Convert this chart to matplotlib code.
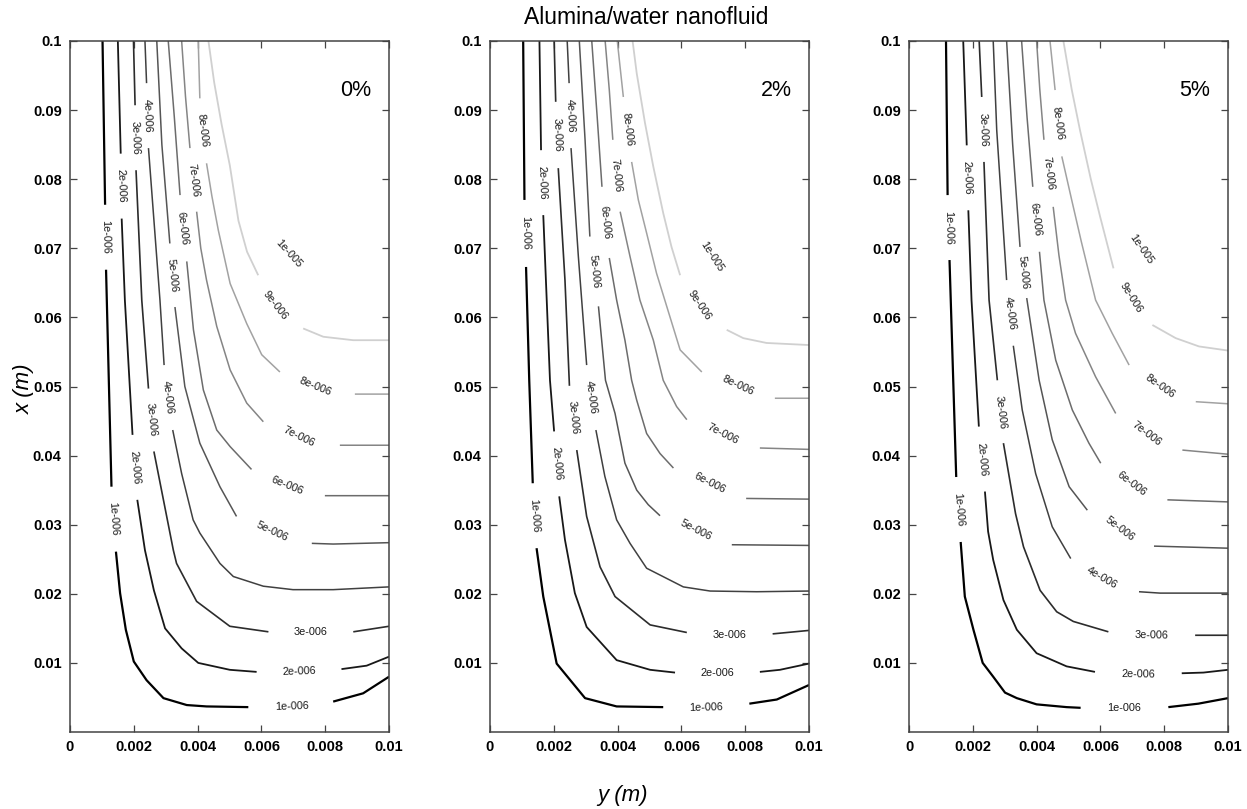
import numpy as np
import matplotlib.pyplot as plt

plt.rcParams['font.family'] = ['Liberation Sans', 'DejaVu Sans']

nan = np.nan

level_names = ['1e-006', '2e-006', '3e-006', '4e-006', '5e-006',
               '6e-006', '7e-006', '8e-006', '9e-006']
panel_tags = ['0%', '2%', '5%']
x_ticks = [0, 0.002, 0.004, 0.006, 0.008, 0.01]
x_ticklabels = ['0', '0.002', '0.004', '0.006', '0.008', '0.01']
y_ticks = [0.01, 0.02, 0.03, 0.04, 0.05, 0.06, 0.07, 0.08, 0.09, 0.1]
y_ticklabels = ['0.01', '0.02', '0.03', '0.04', '0.05', '0.06', '0.07', '0.08', '0.09', '0.1']

# ---- 0% : y (mm) / x (mm) along each contour, nan = gap for a label
y0 = [
    [1.02, 1.10, nan, 1.13, 1.30, nan, 1.44, 1.57, 1.75, 2.00, 2.40, 2.93, 3.66, 4.28, 5.59, nan, 8.25, 9.19, 10.0],
    [1.50, 1.59, nan, 1.62, 1.72, 1.96, nan, 2.11, 2.35, 2.63, 2.98, 3.50, 4.02, 5.01, 5.85, nan, 8.51, 9.30, 10.0],
    [1.99, 2.04, nan, 2.07, 2.25, 2.46, nan, 2.63, 3.24, 3.34, 3.97, 5.01, 6.22, nan, 8.88, 10.0],
    [2.35, 2.40, nan, 2.46, 2.82, 2.95, nan, 3.22, 3.50, 3.86, 4.07, 4.70, 5.12, 6.06, 6.99, 8.25, 10.0],
    [2.72, 2.88, 3.13, nan, 3.29, 3.60, 4.07, 4.70, 5.22, nan, 7.58, 8.25, 10.0],
    [3.08, 3.27, 3.45, nan, 3.66, 3.87, 4.18, 4.60, 5.02, 5.69, nan, 7.99, 10.0],
    [3.50, 3.62, 3.76, nan, 3.97, 4.10, 4.28, 4.60, 5.02, 5.54, 6.06, nan, 8.46, 10.0],
    [4.02, 4.07, nan, 4.28, 4.45, 4.65, 5.02, 5.54, 6.01, 6.58, nan, 8.93, 10.0],
    [4.34, 4.52, 4.75, 5.01, 5.28, 5.55, 5.90, nan, 7.31, 7.94, 8.88, 10.0],
]
x0 = [
    [100, 76.3, nan, 66.9, 35.5, nan, 26.1, 20.1, 14.8, 10.2, 7.5, 4.9, 3.9, 3.7, 3.6, nan, 4.4, 5.6, 8.0],
    [100, 83.7, nan, 74.3, 62.5, 43.0, nan, 33.6, 26.3, 20.5, 15.0, 12.1, 10.0, 9.0, 8.7, nan, 9.1, 9.6, 10.9],
    [100, 90.7, nan, 81.3, 62.5, 49.7, nan, 40.6, 26.3, 24.4, 18.9, 15.3, 14.5, nan, 14.5, 15.3],
    [100, 93.9, nan, 84.5, 62.5, 53.1, nan, 43.7, 37.4, 30.7, 28.8, 24.4, 22.5, 21.1, 20.6, 20.6, 21.0],
    [100, 85.0, 70.7, nan, 61.5, 50.0, 41.8, 35.5, 31.2, nan, 27.3, 27.2, 27.4],
    [100, 89.0, 77.7, nan, 68.1, 58.2, 49.5, 43.7, 41.3, 38.0, nan, 34.2, 34.2],
    [100, 92.0, 84.5, nan, 75.3, 70.0, 65.4, 58.7, 52.4, 47.6, 44.9, nan, 41.5, 41.5],
    [100, 91.7, nan, 82.3, 77.5, 72.6, 64.9, 59.1, 54.6, 52.1, nan, 48.9, 48.9],
    [100, 94.0, 88.0, 82.0, 74.0, 69.5, 66.1, nan, 58.4, 57.2, 56.7, 56.7],
]
lab0_text = ['1e-006', '1e-006', '1e-006', '2e-006', '2e-006', '2e-006', '3e-006', '3e-006', '3e-006',
             '4e-006', '4e-006', '5e-006', '5e-006', '6e-006', '6e-006', '7e-006', '7e-006',
             '8e-006', '8e-006', '9e-006', '1e-005']
lab0_y = [1.12, 1.37, 6.95, 1.60, 2.03, 7.20, 2.05, 2.54, 7.55, 2.43, 3.08, 3.21, 6.35,
          3.53, 6.80, 3.86, 7.18, 4.17, 7.70, 6.43, 6.85]
lab0_x = [71.6, 30.8, 3.75, 79.0, 38.3, 8.7, 86.0, 45.2, 14.5, 89.2, 48.4, 66.1, 29.0,
          72.9, 35.6, 79.9, 42.8, 87.0, 50.0, 61.8, 69.3]
lab0_rot = [-89, -86, 2, -88, -85, 2, -88, -84, 0, -88, -83, -84, -25,
            -83, -22, -83, -26, -83, -22, -52, -48]

# ---- 2%
y2 = [
    [1.04, 1.08, nan, 1.13, 1.23, 1.34, nan, 1.46, 1.67, 2.09, 2.98, 3.97, 5.43, nan, 8.13, 8.99, 10.0],
    [1.55, 1.60, nan, 1.67, 1.88, 2.01, nan, 2.17, 2.35, 2.66, 3.03, 3.97, 5.02, 5.80, nan, 8.46, 9.09, 10.0],
    [2.01, 2.06, nan, 2.14, 2.35, 2.49, nan, 2.72, 3.03, 3.45, 3.92, 5.02, 6.17, nan, 8.86, 10.0],
    [2.42, 2.48, nan, 2.54, 2.77, 3.03, nan, 3.32, 3.60, 3.97, 4.39, 4.91, 6.06, 6.90, 8.36, 10.0],
    [2.80, 2.98, 3.13, nan, 3.40, 3.62, 3.92, 4.23, 4.60, 4.96, 5.33, nan, 7.58, 10.0],
    [3.19, 3.36, 3.51, nan, 3.74, 3.97, 4.23, 4.44, 4.60, 4.91, 5.33, 5.75, nan, 8.03, 10.0],
    [3.61, 3.74, 3.85, nan, 4.08, 4.39, 4.70, 5.12, 5.43, 5.85, 6.17, nan, 8.46, 10.0],
    [3.99, 4.10, 4.18, nan, 4.44, 4.65, 4.91, 5.22, 5.54, 5.96, 6.64, nan, 8.93, 10.0],
    [4.47, 4.60, 4.86, 5.12, 5.43, 5.69, 5.96, nan, 7.42, 7.94, 8.67, 10.0],
]
x2 = [
    [100, 77.0, nan, 67.3, 50.9, 36.0, nan, 26.6, 19.6, 9.9, 4.9, 3.7, 3.6, nan, 4.1, 4.7, 6.8],
    [100, 84.2, nan, 74.8, 50.9, 43.5, nan, 34.1, 27.8, 20.1, 15.2, 10.4, 9.0, 8.6, nan, 8.7, 9.0, 9.9],
    [100, 91.2, nan, 81.6, 65.4, 50.1, nan, 40.8, 31.2, 23.9, 19.6, 15.5, 14.4, nan, 14.2, 14.7],
    [100, 93.9, nan, 84.5, 68.8, 53.1, nan, 43.7, 37.0, 30.7, 27.3, 23.7, 21.0, 20.4, 20.3, 20.4],
    [100, 85.7, 71.7, nan, 61.6, 50.9, 46.1, 38.9, 35.0, 32.9, 31.3, nan, 27.1, 27.0],
    [100, 89.0, 78.9, nan, 68.6, 62.5, 56.7, 50.9, 48.0, 43.2, 40.3, 38.2, nan, 33.8, 33.7],
    [100, 92.9, 85.7, nan, 75.3, 68.8, 62.5, 56.7, 50.9, 47.1, 45.2, nan, 41.1, 40.9],
    [100, 95.3, 91.9, nan, 82.5, 77.0, 72.2, 66.4, 61.6, 55.3, 52.1, nan, 48.3, 48.3],
    [100, 95.3, 88.1, 81.8, 75.1, 70.2, 66.1, nan, 58.2, 57.0, 56.3, 56.0],
]
lab2_text = lab0_text
lab2_y = [1.10, 1.40, 6.78, 1.63, 2.09, 7.13, 2.10, 2.60, 7.52, 2.51, 3.17, 3.26, 6.45,
          3.62, 6.89, 3.96, 7.31, 4.31, 7.78, 6.55, 6.95]
lab2_x = [72.2, 31.3, 3.5, 79.5, 38.8, 8.6, 86.4, 45.5, 14.0, 89.2, 48.4, 66.6, 29.2,
          73.7, 36.0, 80.5, 43.1, 87.2, 50.2, 61.8, 68.8]
lab2_rot = [-89, -86, 1.5, -88, -85, 0, -88, -84, 0, -88, -82, -84, -27,
            -84, -27, -84, -27, -83, -25, -56, -57]

# ---- 5%
y5 = [
    [1.16, 1.21, nan, 1.27, 1.48, nan, 1.62, 1.75, 2.02, 2.31, 2.64, 3.01, 3.38, 4.00, 4.94, 5.38, nan, 8.13, 9.07, 10.0],
    [1.70, 1.81, nan, 1.86, 1.96, 2.19, nan, 2.38, 2.48, 2.64, 2.96, 3.38, 4.00, 4.94, 5.83, nan, 8.55, 9.23, 10.0],
    [2.20, 2.28, nan, 2.35, 2.51, 2.77, nan, 2.96, 3.34, 3.59, 4.11, 4.63, 5.15, 6.25, nan, 8.97, 10.0],
    [2.64, 2.75, 3.06, nan, 3.27, 3.55, 3.97, 4.49, 5.07, nan, 7.21, 7.87, 10.0],
    [3.06, 3.25, 3.48, nan, 3.69, 4.08, 4.49, 5.02, 5.59, nan, 7.68, 10.0],
    [3.53, 3.70, 3.88, nan, 4.09, 4.23, 4.60, 5.12, 5.64, 6.01, nan, 8.10, 10.0],
    [4.00, 4.10, 4.23, nan, 4.52, 4.70, 4.91, 5.22, 5.85, 6.48, nan, 8.57, 10.0],
    [4.42, 4.58, nan, 4.79, 5.10, 5.40, 5.85, 6.37, 6.90, nan, 8.99, 10.0],
    [4.84, 5.10, 5.36, 5.70, 5.99, 6.41, nan, 7.63, 8.36, 9.09, 10.0],
]
x5 = [
    [100, 77.7, nan, 68.3, 36.9, nan, 27.5, 19.6, 14.8, 10.0, 8.0, 5.7, 4.9, 4.0, 3.6, 3.5, nan, 3.6, 4.1, 4.9],
    [100, 84.9, nan, 75.5, 62.5, 44.2, nan, 34.8, 29.0, 24.9, 19.1, 14.8, 11.4, 9.5, 8.7, nan, 8.5, 8.6, 9.0],
    [100, 91.9, nan, 82.5, 62.5, 50.9, nan, 41.8, 31.6, 26.8, 20.5, 17.4, 16.0, 14.5, nan, 14.0, 14.0],
    [100, 87.1, 65.4, nan, 55.9, 46.6, 37.4, 29.7, 25.1, nan, 20.3, 20.1, 20.1],
    [100, 85.0, 70.2, nan, 62.8, 50.9, 42.3, 35.5, 32.1, nan, 26.9, 26.6],
    [100, 89.0, 78.9, nan, 69.5, 62.5, 53.8, 46.6, 41.8, 38.9, nan, 33.6, 33.3],
    [100, 93.0, 85.7, nan, 76.0, 69.0, 62.5, 57.7, 51.4, 46.1, nan, 40.8, 40.2],
    [100, 92.9, nan, 83.3, 77.0, 71.0, 62.5, 57.7, 53.1, nan, 47.8, 47.5],
    [100, 93.0, 87.1, 80.0, 74.6, 67.1, nan, 58.9, 57.0, 55.8, 55.2],
]
lab5_text = ['1e-006', '1e-006', '1e-006', '2e-006', '2e-006', '2e-006', '3e-006', '3e-006', '3e-006',
             '4e-006', '4e-006', '5e-006', '5e-006', '6e-006', '6e-006', '7e-006', '7e-006',
             '8e-006', '8e-006', '9e-006', '1e-005']
lab5_y = [1.24, 1.55, 6.75, 1.83, 2.28, 7.19, 2.31, 2.86, 7.60, 3.17, 6.05, 3.58, 6.60,
          3.98, 6.98, 4.37, 7.45, 4.68, 7.88, 6.95, 7.29]
lab5_x = [73.0, 32.2, 3.45, 80.2, 39.5, 8.4, 87.2, 46.3, 14.0, 60.6, 22.3, 66.5, 29.4,
          74.2, 35.9, 80.9, 43.1, 88.1, 50.0, 62.8, 69.8]
lab5_rot = [-89, -85, 0, -88, -85, -1, -88, -83, -1, -82, -30, -84, -37,
            -83, -37, -83, -37, -82, -35, -58, -55]

grays = ['#000000', '#181818', '#2c2c2c', '#404040', '#555555',
         '#6c6c6c', '#858585', '#a2a2a2', '#d0d0d0']
widths = [1.6, 1.3, 1.2, 1.1, 1.1, 1.1, 1.1, 1.1, 1.3]

fig = plt.figure(figsize=(12.47, 8.09), dpi=100)
lefts = [70 / 1247, 490 / 1247, 909 / 1247]
bottom = 77 / 809
w = 319 / 1247
h = 691 / 809

panels = [
    (y0, x0, lab0_text, lab0_y, lab0_x, lab0_rot),
    (y2, x2, lab2_text, lab2_y, lab2_x, lab2_rot),
    (y5, x5, lab5_text, lab5_y, lab5_x, lab5_rot),
]

for k, (ys, xs, lt, ly, lx, lr) in enumerate(panels):
    ax = fig.add_axes([lefts[k], bottom, w, h])
    for i in range(len(level_names)):
        yy = np.array(ys[i]) / 1000
        xx = np.array(xs[i]) / 1000
        ax.plot(yy, xx, color=grays[i], lw=widths[i], solid_capstyle='butt')
    for t, a, b, r in zip(lt, ly, lx, lr):
        ax.text(a / 1000, b / 1000, t, rotation=r, rotation_mode='anchor',
                ha='center', va='center', fontsize=7.8, color='#1a1a1a')
    ax.text(0.00945, 0.0929, panel_tags[k], ha='right', va='center', fontsize=15.5)
    ax.set_xlim(0, 0.01)
    ax.set_ylim(0, 0.1)
    ax.set_xticks(x_ticks)
    ax.set_xticklabels(x_ticklabels)
    ax.set_yticks(y_ticks)
    ax.set_yticklabels(y_ticklabels)
    ax.tick_params(direction='in', top=True, right=True, length=5, width=0.9,
                   color='#444444', labelsize=10.5, pad=6)
    for lab in ax.get_xticklabels() + ax.get_yticklabels():
        lab.set_fontweight('bold')
    for s in ax.spines.values():
        s.set_color('#444444')
        s.set_linewidth(1.1)

fig.text(0.518, 0.978, 'Alumina/water nanofluid', ha='center', va='center', fontsize=16.5)
fig.text(0.4996, 0.0173, 'y (m)', ha='center', va='center', fontsize=16, style='italic')
fig.text(0.0192, 0.52, 'x (m)', ha='center', va='center', fontsize=16, style='italic',
         rotation=90)

fig.savefig('out.png', dpi=100)
